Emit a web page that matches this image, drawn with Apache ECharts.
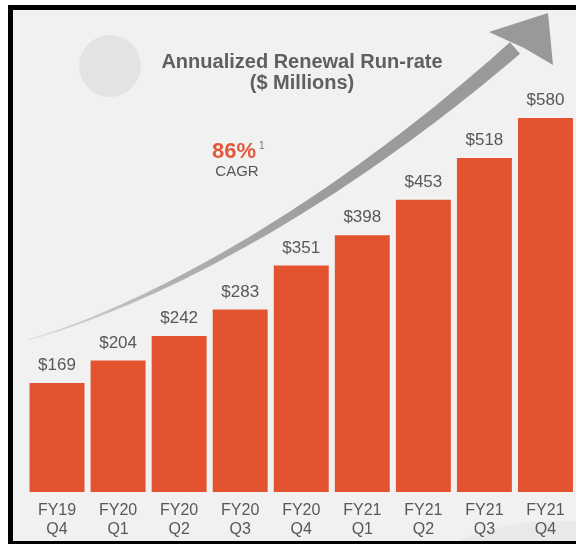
<!DOCTYPE html>
<html>
<head>
<meta charset="utf-8">
<script src="https://cdn.jsdelivr.net/npm/echarts@6/dist/echarts.min.js"></script>
<style>
  html, body { margin: 0; padding: 0; background: #ffffff; }
  #chart { width: 576px; height: 544px; }
</style>
</head>
<body>
<div id="chart"></div>
<script>
// Quarterly categories (fiscal year / quarter)
const quarters = ['FY19\nQ4', 'FY20\nQ1', 'FY20\nQ2', 'FY20\nQ3', 'FY20\nQ4', 'FY21\nQ1', 'FY21\nQ2', 'FY21\nQ3', 'FY21\nQ4'];
// Annualized renewal run-rate, $ millions
const runRate = [169, 204, 242, 283, 351, 398, 453, 518, 580];
// Headline growth figure
const cagrText = '86%';

const FONT = '"Liberation Sans", Arial, Helvetica, sans-serif';

const chart = echarts.init(document.getElementById('chart'), null, { renderer: 'canvas' });

// Growth arrow: a cubic curve whose stroke widens from left to right
function arrowShape() {
  const p0 = [28, 340], p1 = [150, 305], p2 = [330, 210], p3 = [515, 48];
  const left = [], right = [];
  const steps = 60;
  for (let i = 0; i <= steps; i++) {
    const t = i / steps, u = 1 - t;
    const x = u*u*u*p0[0] + 3*u*u*t*p1[0] + 3*u*t*t*p2[0] + t*t*t*p3[0];
    const y = u*u*u*p0[1] + 3*u*u*t*p1[1] + 3*u*t*t*p2[1] + t*t*t*p3[1];
    const dx = 3*u*u*(p1[0]-p0[0]) + 6*u*t*(p2[0]-p1[0]) + 3*t*t*(p3[0]-p2[0]);
    const dy = 3*u*u*(p1[1]-p0[1]) + 6*u*t*(p2[1]-p1[1]) + 3*t*t*(p3[1]-p2[1]);
    const len = Math.hypot(dx, dy);
    const nx = -dy / len, ny = dx / len;
    const w = (0.8 + 14.5 * Math.pow(t, 1.25)) / 2;
    left.push([x + nx * w, y + ny * w]);
    right.push([x - nx * w, y - ny * w]);
  }
  return left.concat(right.reverse());
}

chart.setOption({
  backgroundColor: '#ffffff',
  animation: false,
  title: {
    text: 'Annualized Renewal Run-rate\n($ Millions)',
    left: 297,
    top: 47,
    textAlign: 'center',
    textStyle: {
      fontFamily: FONT,
      fontSize: 20,
      fontWeight: 'bold',
      color: '#5f5f5f',
      lineHeight: 21
    }
  },
  grid: { left: 26.5, right: -2.2, top: 105, bottom: 52 },
  xAxis: {
    type: 'category',
    data: quarters,
    axisLine: { show: false },
    axisTick: { show: false },
    axisLabel: {
      margin: 9,
      fontFamily: FONT,
      fontSize: 16,
      lineHeight: 19,
      color: '#585858'
    }
  },
  yAxis: {
    type: 'value',
    min: 0,
    max: 600,
    show: false,
    splitLine: { show: false }
  },
  graphic: [
    // panel background and black frame
    { type: 'rect', z: -10, shape: { x: 8, y: 5, width: 580, height: 545 }, style: { fill: '#f1f1f1' } },
    { type: 'rect', z: -9, shape: { x: 8, y: 5, width: 5, height: 545 }, style: { fill: '#000000' } },
    { type: 'rect', z: -9, shape: { x: 8, y: 5, width: 580, height: 5 }, style: { fill: '#000000' } },
    { type: 'rect', z: 50, shape: { x: 8, y: 541, width: 580, height: 5 }, style: { fill: '#000000' } },
    // soft disc at top left and faint arc at bottom right
    { type: 'circle', z: -8, shape: { cx: 110, cy: 66, r: 31 }, style: { fill: '#e2e4e4' } },
    { type: 'circle', z: -8, shape: { cx: 560, cy: 800, r: 279 }, style: { fill: '#e9e9e9' } },
    // growth arrow
    {
      type: 'polygon', z: -5,
      shape: { points: arrowShape() },
      style: {
        fill: new echarts.graphic.LinearGradient(0, 0, 1, 0, [
          { offset: 0, color: '#dadada' },
          { offset: 0.3, color: '#b0b0b0' },
          { offset: 0.6, color: '#9c9c9c' },
          { offset: 1, color: '#999999' }
        ], false)
      }
    },
    {
      type: 'polygon', z: -5,
      shape: { points: [[489, 32], [548, 13], [553, 65], [524, 48]] },
      style: { fill: '#999999' }
    },
    // CAGR callout
    {
      type: 'text', z: 10, x: 234, y: 152,
      style: {
        text: cagrText, fill: '#e2593d', fontSize: 22, fontWeight: 'bold',
        fontFamily: FONT, align: 'center', verticalAlign: 'middle'
      }
    },
    {
      type: 'text', z: 10, x: 259, y: 146,
      style: {
        text: '1', fill: '#777777', fontSize: 10,
        fontFamily: FONT, align: 'left', verticalAlign: 'middle'
      }
    },
    {
      type: 'text', z: 10, x: 237, y: 172,
      style: {
        text: 'CAGR', fill: '#555555', fontSize: 15,
        fontFamily: FONT, align: 'center', verticalAlign: 'middle'
      }
    }
  ],
  series: [{
    type: 'bar',
    data: runRate,
    barCategoryGap: '10%',
    itemStyle: { color: '#e3532f' },
    label: {
      show: true,
      position: 'top',
      distance: 9,
      formatter: p => '$' + p.value,
      fontFamily: FONT,
      fontSize: 17,
      color: '#585858'
    }
  }]
});
</script>
</body>
</html>
